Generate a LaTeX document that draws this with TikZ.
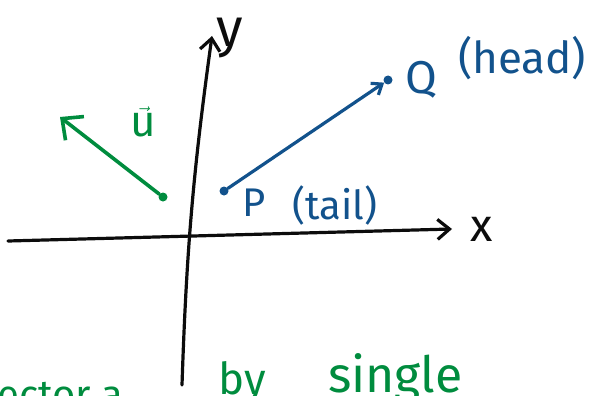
\documentclass[tikz,border=0pt]{standalone}
\usepackage{fontspec}
\setmainfont{Fira Sans}
\usetikzlibrary{arrows.meta, positioning}
\definecolor{InkBlack}{RGB}{12,12,12}
\definecolor{InkBlue}{RGB}{18,82,140}
\definecolor{InkGreen}{RGB}{0,140,62}

\begin{document}
\begin{tikzpicture}[x=1pt, y=-1pt,
	ax/.style={-{Straight Barb[length=12pt, width=20pt]}, line width=3.2pt, InkBlack, line cap=round},
	vb/.style={-{Straight Barb[length=9pt, width=14pt]}, line width=3.2pt, InkBlue, line cap=round},
	vg/.style={-{Straight Barb[length=16pt, width=30pt]}, line width=3.6pt, InkGreen, line cap=round},
	dot/.style={circle, fill, inner sep=0pt, minimum size=9pt},
	lbl/.style={inner sep=0pt, font=\fontsize{40}{40}\selectfont}]
	\useasboundingbox (0,0) rectangle (600,396);

	% ---------- axes ----------
	\coordinate (xs) at (8,241);
	\coordinate (xe) at (452,229);
	\coordinate (ys) at (182,385);
	\coordinate (ye) at (212,36);
	\draw[ax] (xs) -- (xe);
	\draw[ax] (ys) to[bend left=3] (ye);
	\node[lbl, InkBlack, font=\fontsize{46}{46}\selectfont, right=18pt of xe] (xl) {x};
	\node[lbl, InkBlack, font=\fontsize{54}{54}\selectfont, right=4pt of ye, yshift=-2pt] (yl) {y};

	% ---------- vector P -> Q ----------
	\node[dot, InkBlue] (P) at (224,191) {};
	\node[dot, InkBlue] (Q) at (388,80) {};
	\draw[vb] (P) -- (Q);
	\node[lbl, InkBlue, right=14pt of P, yshift=-12pt] (Pl) {P};
	\node[lbl, InkBlue, font=\fontsize{40}{40}\selectfont, right=26pt of Pl, yshift=-2pt] (tl) {(tail)};
	\node[lbl, InkBlue, font=\fontsize{46}{46}\selectfont, right=13pt of Q] (Ql) {Q};
	\node[lbl, InkBlue, font=\fontsize{44}{44}\selectfont, right=20pt of Ql, yshift=22pt] (hl) {(head)};

	% ---------- vector u ----------
	\node[dot, InkGreen] (ut) at (163,197) {};
	\coordinate (uh) at (60,117);
	\draw[vg] (ut) -- (uh);
	\node[lbl, InkGreen, font=\fontsize{44}{44}\selectfont] (ul) at (143,122) {$\vec{\mbox{u}}$};

	% ---------- note (cut off) ----------
	\node[lbl, InkGreen, anchor=base west] (n1) at (-22,408) {vector a};
	\node[lbl, InkGreen, font=\fontsize{44}{44}\selectfont, anchor=base west] (n2) at (218,394) {by};
	\node[lbl, InkGreen, font=\fontsize{50}{50}\selectfont, anchor=base west] (n3) at (328,392) {single};
\end{tikzpicture}
\end{document}
